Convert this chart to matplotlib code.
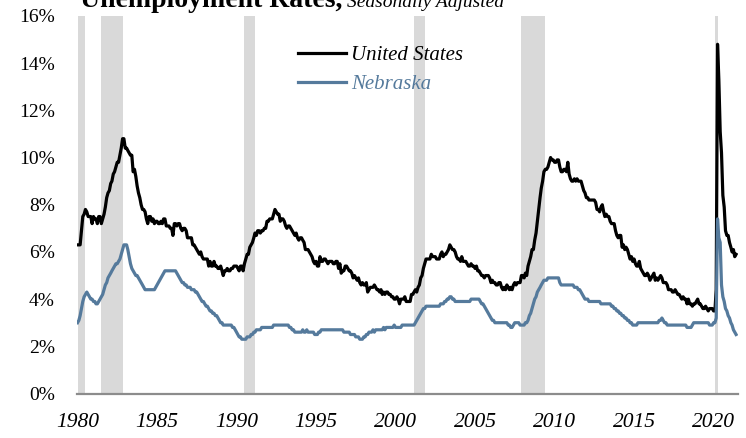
import matplotlib
matplotlib.use("Agg")
import matplotlib.pyplot as plt
import numpy as np
import pandas as pd

# ---------------- data (monthly, Jan 1980 - Jun 2021) ----------------
us_rate = [
    6.3, 6.3, 6.3, 6.9, 7.5, 7.6, 7.8, 7.7, 7.5, 7.5, 7.5, 7.2,   # 1980
    7.5, 7.4, 7.4, 7.2, 7.5, 7.5, 7.2, 7.4, 7.6, 7.9, 8.3, 8.5,   # 1981
    8.6, 8.9, 9.0, 9.3, 9.4, 9.6, 9.8, 9.8, 10.1, 10.4, 10.8, 10.8,  # 1982
    10.4, 10.4, 10.3, 10.2, 10.1, 10.1, 9.4, 9.5, 9.2, 8.8, 8.5, 8.3,  # 1983
    8.0, 7.8, 7.8, 7.7, 7.4, 7.2, 7.5, 7.5, 7.3, 7.4, 7.2, 7.3,   # 1984
    7.3, 7.2, 7.2, 7.3, 7.2, 7.4, 7.4, 7.1, 7.1, 7.1, 7.0, 7.0,   # 1985
    6.7, 7.2, 7.2, 7.1, 7.2, 7.2, 7.0, 6.9, 7.0, 7.0, 6.9, 6.6,   # 1986
    6.6, 6.6, 6.6, 6.3, 6.3, 6.2, 6.1, 6.0, 5.9, 6.0, 5.8, 5.7,   # 1987
    5.7, 5.7, 5.7, 5.4, 5.6, 5.4, 5.4, 5.6, 5.4, 5.4, 5.3, 5.3,   # 1988
    5.4, 5.2, 5.0, 5.2, 5.2, 5.3, 5.2, 5.2, 5.3, 5.3, 5.4, 5.4,   # 1989
    5.4, 5.3, 5.2, 5.4, 5.4, 5.2, 5.5, 5.7, 5.9, 5.9, 6.2, 6.3,   # 1990
    6.4, 6.6, 6.8, 6.7, 6.9, 6.9, 6.8, 6.9, 6.9, 7.0, 7.0, 7.3,   # 1991
    7.3, 7.4, 7.4, 7.4, 7.6, 7.8, 7.7, 7.6, 7.6, 7.3, 7.4, 7.4,   # 1992
    7.3, 7.1, 7.0, 7.1, 7.1, 7.0, 6.9, 6.8, 6.7, 6.8, 6.6, 6.5,   # 1993
    6.6, 6.6, 6.5, 6.4, 6.1, 6.1, 6.1, 6.0, 5.9, 5.8, 5.6, 5.5,   # 1994
    5.6, 5.4, 5.4, 5.8, 5.6, 5.6, 5.7, 5.7, 5.6, 5.5, 5.6, 5.6,   # 1995
    5.6, 5.5, 5.5, 5.6, 5.6, 5.3, 5.5, 5.1, 5.2, 5.2, 5.4, 5.4,   # 1996
    5.3, 5.2, 5.2, 5.1, 4.9, 5.0, 4.9, 4.8, 4.9, 4.7, 4.6, 4.7,   # 1997
    4.6, 4.6, 4.7, 4.3, 4.4, 4.5, 4.5, 4.5, 4.6, 4.5, 4.4, 4.4,   # 1998
    4.3, 4.4, 4.2, 4.3, 4.2, 4.3, 4.3, 4.2, 4.2, 4.1, 4.1, 4.0,   # 1999
    4.0, 4.1, 4.0, 3.8, 4.0, 4.0, 4.0, 4.1, 3.9, 3.9, 3.9, 3.9,   # 2000
    4.2, 4.2, 4.3, 4.4, 4.3, 4.5, 4.6, 4.9, 5.0, 5.3, 5.5, 5.7,   # 2001
    5.7, 5.7, 5.7, 5.9, 5.8, 5.8, 5.8, 5.7, 5.7, 5.7, 5.9, 6.0,   # 2002
    5.8, 5.9, 5.9, 6.0, 6.1, 6.3, 6.2, 6.1, 6.1, 6.0, 5.8, 5.7,   # 2003
    5.7, 5.6, 5.8, 5.6, 5.6, 5.6, 5.5, 5.4, 5.4, 5.5, 5.4, 5.4,   # 2004
    5.3, 5.4, 5.2, 5.2, 5.1, 5.0, 5.0, 4.9, 5.0, 5.0, 5.0, 4.9,   # 2005
    4.7, 4.8, 4.7, 4.7, 4.6, 4.6, 4.7, 4.7, 4.5, 4.4, 4.5, 4.4,   # 2006
    4.6, 4.5, 4.4, 4.5, 4.4, 4.6, 4.7, 4.6, 4.7, 4.7, 4.7, 5.0,   # 2007
    5.0, 4.9, 5.1, 5.0, 5.4, 5.6, 5.8, 6.1, 6.1, 6.5, 6.8, 7.3,   # 2008
    7.8, 8.3, 8.7, 9.0, 9.4, 9.5, 9.5, 9.6, 9.8, 10.0, 9.9, 9.9,  # 2009
    9.8, 9.8, 9.9, 9.9, 9.6, 9.4, 9.4, 9.5, 9.5, 9.4, 9.8, 9.3,   # 2010
    9.1, 9.0, 9.0, 9.1, 9.0, 9.1, 9.0, 9.0, 9.0, 8.8, 8.6, 8.5,   # 2011
    8.3, 8.3, 8.2, 8.2, 8.2, 8.2, 8.2, 8.1, 7.8, 7.8, 7.7, 7.9,   # 2012
    8.0, 7.7, 7.5, 7.6, 7.5, 7.5, 7.3, 7.2, 7.2, 7.2, 6.9, 6.7,   # 2013
    6.6, 6.7, 6.7, 6.2, 6.3, 6.1, 6.2, 6.1, 5.9, 5.7, 5.8, 5.6,   # 2014
    5.7, 5.5, 5.4, 5.4, 5.6, 5.3, 5.2, 5.1, 5.0, 5.0, 5.1, 5.0,   # 2015
    4.8, 4.9, 5.0, 5.1, 4.8, 4.9, 4.8, 4.9, 5.0, 4.9, 4.7, 4.7,   # 2016
    4.7, 4.6, 4.4, 4.4, 4.4, 4.3, 4.3, 4.4, 4.3, 4.2, 4.2, 4.1,   # 2017
    4.0, 4.1, 4.0, 4.0, 3.8, 4.0, 3.8, 3.8, 3.7, 3.8, 3.8, 3.9,   # 2018
    4.0, 3.8, 3.8, 3.7, 3.6, 3.6, 3.7, 3.6, 3.5, 3.6, 3.6, 3.6,   # 2019
    3.5, 3.5, 4.4, 14.8, 13.3, 11.1, 10.2, 8.4, 7.9, 6.9, 6.7, 6.7,  # 2020
    6.4, 6.2, 6.0, 6.1, 5.8, 5.9,                                  # 2021
]

ne_rate = [
    3.0, 3.1, 3.3, 3.6, 3.9, 4.1, 4.2, 4.3, 4.2, 4.1, 4.0, 4.0,   # 1980
    3.9, 3.9, 3.8, 3.8, 3.9, 4.0, 4.1, 4.2, 4.4, 4.6, 4.7, 4.9,   # 1981
    5.0, 5.1, 5.2, 5.3, 5.4, 5.5, 5.5, 5.6, 5.7, 5.9, 6.1, 6.3,   # 1982
    6.3, 6.3, 6.1, 5.8, 5.5, 5.3, 5.2, 5.1, 5.0, 5.0, 4.9, 4.8,   # 1983
    4.7, 4.6, 4.5, 4.4, 4.4, 4.4, 4.4, 4.4, 4.4, 4.4, 4.4, 4.5,   # 1984
    4.6, 4.7, 4.8, 4.9, 5.0, 5.1, 5.2, 5.2, 5.2, 5.2, 5.2, 5.2,   # 1985
    5.2, 5.2, 5.2, 5.1, 5.0, 4.9, 4.8, 4.7, 4.7, 4.6, 4.6, 4.5,   # 1986
    4.5, 4.5, 4.4, 4.4, 4.4, 4.3, 4.3, 4.2, 4.1, 4.0, 3.9, 3.9,   # 1987
    3.8, 3.7, 3.7, 3.6, 3.5, 3.5, 3.4, 3.4, 3.3, 3.3, 3.2, 3.1,   # 1988
    3.0, 3.0, 2.9, 2.9, 2.9, 2.9, 2.9, 2.9, 2.9, 2.8, 2.8, 2.7,   # 1989
    2.6, 2.5, 2.4, 2.4, 2.3, 2.3, 2.3, 2.3, 2.4, 2.4, 2.4, 2.5,   # 1990
    2.5, 2.6, 2.6, 2.7, 2.7, 2.7, 2.7, 2.8, 2.8, 2.8, 2.8, 2.8,   # 1991
    2.8, 2.8, 2.8, 2.8, 2.9, 2.9, 2.9, 2.9, 2.9, 2.9, 2.9, 2.9,   # 1992
    2.9, 2.9, 2.9, 2.9, 2.8, 2.8, 2.7, 2.7, 2.6, 2.6, 2.6, 2.6,   # 1993
    2.6, 2.6, 2.7, 2.6, 2.6, 2.7, 2.6, 2.6, 2.6, 2.6, 2.6, 2.5,   # 1994
    2.5, 2.5, 2.6, 2.6, 2.7, 2.7, 2.7, 2.7, 2.7, 2.7, 2.7, 2.7,   # 1995
    2.7, 2.7, 2.7, 2.7, 2.7, 2.7, 2.7, 2.7, 2.7, 2.6, 2.6, 2.6,   # 1996
    2.6, 2.6, 2.5, 2.5, 2.5, 2.5, 2.4, 2.4, 2.4, 2.3, 2.3, 2.3,   # 1997
    2.4, 2.4, 2.5, 2.5, 2.6, 2.6, 2.6, 2.7, 2.6, 2.7, 2.7, 2.7,   # 1998
    2.7, 2.7, 2.7, 2.8, 2.7, 2.8, 2.8, 2.8, 2.8, 2.8, 2.8, 2.9,   # 1999
    2.8, 2.8, 2.8, 2.8, 2.8, 2.9, 2.9, 2.9, 2.9, 2.9, 2.9, 2.9,   # 2000
    2.9, 2.9, 2.9, 3.0, 3.1, 3.2, 3.3, 3.4, 3.5, 3.6, 3.6, 3.7,   # 2001
    3.7, 3.7, 3.7, 3.7, 3.7, 3.7, 3.7, 3.7, 3.7, 3.7, 3.8, 3.8,   # 2002
    3.8, 3.9, 3.9, 4.0, 4.0, 4.1, 4.1, 4.0, 4.0, 3.9, 3.9, 3.9,   # 2003
    3.9, 3.9, 3.9, 3.9, 3.9, 3.9, 3.9, 3.9, 3.9, 4.0, 4.0, 4.0,   # 2004
    4.0, 4.0, 4.0, 4.0, 3.9, 3.8, 3.8, 3.7, 3.6, 3.5, 3.4, 3.3,   # 2005
    3.2, 3.1, 3.1, 3.0, 3.0, 3.0, 3.0, 3.0, 3.0, 3.0, 3.0, 3.0,   # 2006
    3.0, 2.9, 2.9, 2.8, 2.8, 2.9, 3.0, 3.0, 3.0, 3.0, 2.9, 2.9,   # 2007
    2.9, 2.9, 3.0, 3.0, 3.1, 3.3, 3.4, 3.6, 3.8, 4.0, 4.1, 4.3,   # 2008
    4.4, 4.5, 4.6, 4.7, 4.8, 4.8, 4.8, 4.9, 4.9, 4.9, 4.9, 4.9,   # 2009
    4.9, 4.9, 4.9, 4.9, 4.7, 4.6, 4.6, 4.6, 4.6, 4.6, 4.6, 4.6,   # 2010
    4.6, 4.6, 4.6, 4.5, 4.5, 4.5, 4.4, 4.4, 4.3, 4.2, 4.1, 4.0,   # 2011
    4.0, 4.0, 3.9, 3.9, 3.9, 3.9, 3.9, 3.9, 3.9, 3.9, 3.9, 3.8,   # 2012
    3.8, 3.8, 3.8, 3.8, 3.8, 3.8, 3.8, 3.7, 3.7, 3.6, 3.6, 3.5,   # 2013
    3.5, 3.4, 3.4, 3.3, 3.3, 3.2, 3.2, 3.1, 3.1, 3.0, 3.0, 2.9,   # 2014
    2.9, 2.9, 2.9, 3.0, 3.0, 3.0, 3.0, 3.0, 3.0, 3.0, 3.0, 3.0,   # 2015
    3.0, 3.0, 3.0, 3.0, 3.0, 3.0, 3.0, 3.1, 3.1, 3.2, 3.1, 3.0,   # 2016
    3.0, 2.9, 2.9, 2.9, 2.9, 2.9, 2.9, 2.9, 2.9, 2.9, 2.9, 2.9,   # 2017
    2.9, 2.9, 2.9, 2.9, 2.8, 2.8, 2.8, 2.8, 2.9, 3.0, 3.0, 3.0,   # 2018
    3.0, 3.0, 3.0, 3.0, 3.0, 3.0, 3.0, 3.0, 3.0, 2.9, 2.9, 2.9,   # 2019
    3.0, 3.0, 3.2, 7.4, 6.6, 6.4, 4.6, 4.1, 3.9, 3.6, 3.5, 3.3,   # 2020
    3.2, 3.0, 2.9, 2.7, 2.6, 2.5,                                  # 2021
]

recession_start = ["1980-01-01", "1981-07-01", "1990-07-01", "2001-03-01", "2007-12-01", "2020-02-01"]
recession_end   = ["1980-07-01", "1982-11-01", "1991-03-01", "2001-11-01", "2009-06-01", "2020-04-01"]

series_labels = ["United States", "Nebraska"]
year_ticks = list(range(1980, 2021, 5))
pct_ticks = list(range(0, 17, 2))

# ---------------- plot ----------------
dates = pd.date_range("1980-01-01", periods=len(us_rate), freq="MS")

fig = plt.figure(figsize=(7.46, 4.38), dpi=100)
ax = fig.add_axes([77 / 746, (438 - 393.5) / 438, 661 / 746, (393.5 - 16) / 438])

serif = "Liberation Serif"
us_color = "#000000"
ne_color = "#557a9c"

for s, e in zip(recession_start, recession_end):
    ax.axvspan(pd.Timestamp(s), pd.Timestamp(e), color="#d9d9d9", lw=0, zorder=0)

ax.plot(dates, us_rate, color=us_color, lw=2.3, label=series_labels[0], zorder=3)
ax.plot(dates, ne_rate, color=ne_color, lw=2.3, label=series_labels[1], zorder=3)

ax.set_ylim(0, 16)
ax.set_xlim(pd.Timestamp("1979-12-20"), pd.Timestamp("2021-07-15"))

ax.set_yticks(pct_ticks)
ax.set_yticklabels([f"{v}%" for v in pct_ticks], fontfamily=serif, fontsize=14)
ax.set_xticks([pd.Timestamp(f"{y}-01-01") for y in year_ticks])
ax.set_xticklabels([str(y) for y in year_ticks], fontfamily=serif, fontstyle="italic", fontsize=15.5)
ax.tick_params(axis="y", length=0, pad=16)
ax.tick_params(axis="x", length=0, pad=14)

for sp in ["left", "right", "top"]:
    ax.spines[sp].set_visible(False)
ax.spines["bottom"].set_color("#8c8c8c")
ax.spines["bottom"].set_linewidth(1.6)
ax.spines["bottom"].set_zorder(2)

leg = ax.legend(loc="upper left", bbox_to_anchor=(0.334, 0.921), frameon=False,
                prop={"family": serif, "style": "italic", "size": 15},
                handlelength=2.3, handletextpad=0.25, labelspacing=0.45,
                borderpad=0, borderaxespad=0, labelcolor="linecolor")

# title, partially clipped at top as in the reference
t1 = fig.text(80 / 746, 1 - 7 / 438, "Unemployment Rates,", fontfamily=serif,
              fontweight="bold", fontsize=20, va="baseline", ha="left")
fig.canvas.draw()
bb = t1.get_window_extent(renderer=fig.canvas.get_renderer())
fig.text((bb.x1 + 5) / fig.bbox.width, 1 - 7 / 438, "Seasonally Adjusted", fontfamily=serif,
         fontstyle="italic", fontsize=14, va="baseline", ha="left")

fig.savefig("out.png", dpi=100)
